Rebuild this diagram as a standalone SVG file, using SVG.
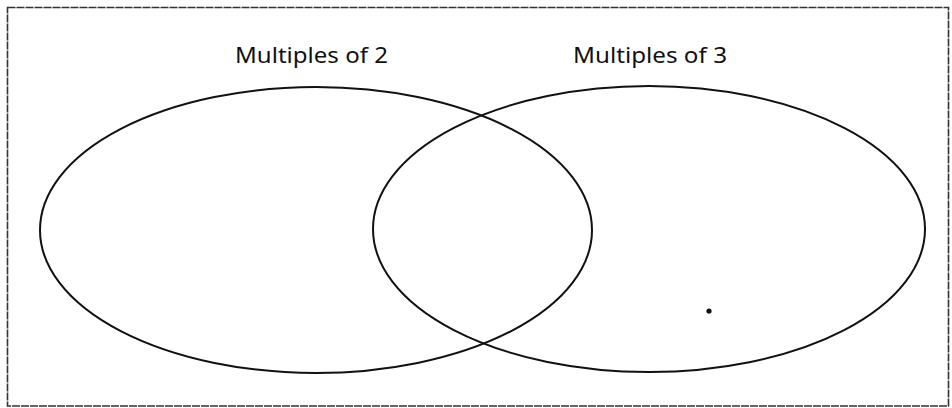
<svg xmlns="http://www.w3.org/2000/svg" width="952" height="408" viewBox="0 0 952 408">
<style>
.set{fill:none;stroke:#111;stroke-width:2}
.lbl{font-family:"Noto Sans","Open Sans",sans-serif;font-size:22px;fill:#111}
</style>
<rect x="0" y="0" width="952" height="408" fill="#fff"/>
<rect x="7.5" y="7.5" width="941" height="398.5" fill="none" stroke="#333" stroke-width="1.6" stroke-dasharray="8 1"/>
<g id="multiples-of-2">
<ellipse class="set" cx="316" cy="230" rx="276" ry="143"/>
<text class="lbl" x="235" y="63" textLength="153" lengthAdjust="spacingAndGlyphs">Multiples of 2</text>
</g>
<g id="multiples-of-3">
<ellipse class="set" cx="649" cy="229" rx="276" ry="143"/>
<text class="lbl" x="573" y="63" textLength="154" lengthAdjust="spacingAndGlyphs">Multiples of 3</text>
</g>
<g id="connectors"></g>
<circle cx="709" cy="311" r="2.6" fill="#111"/>
</svg>
